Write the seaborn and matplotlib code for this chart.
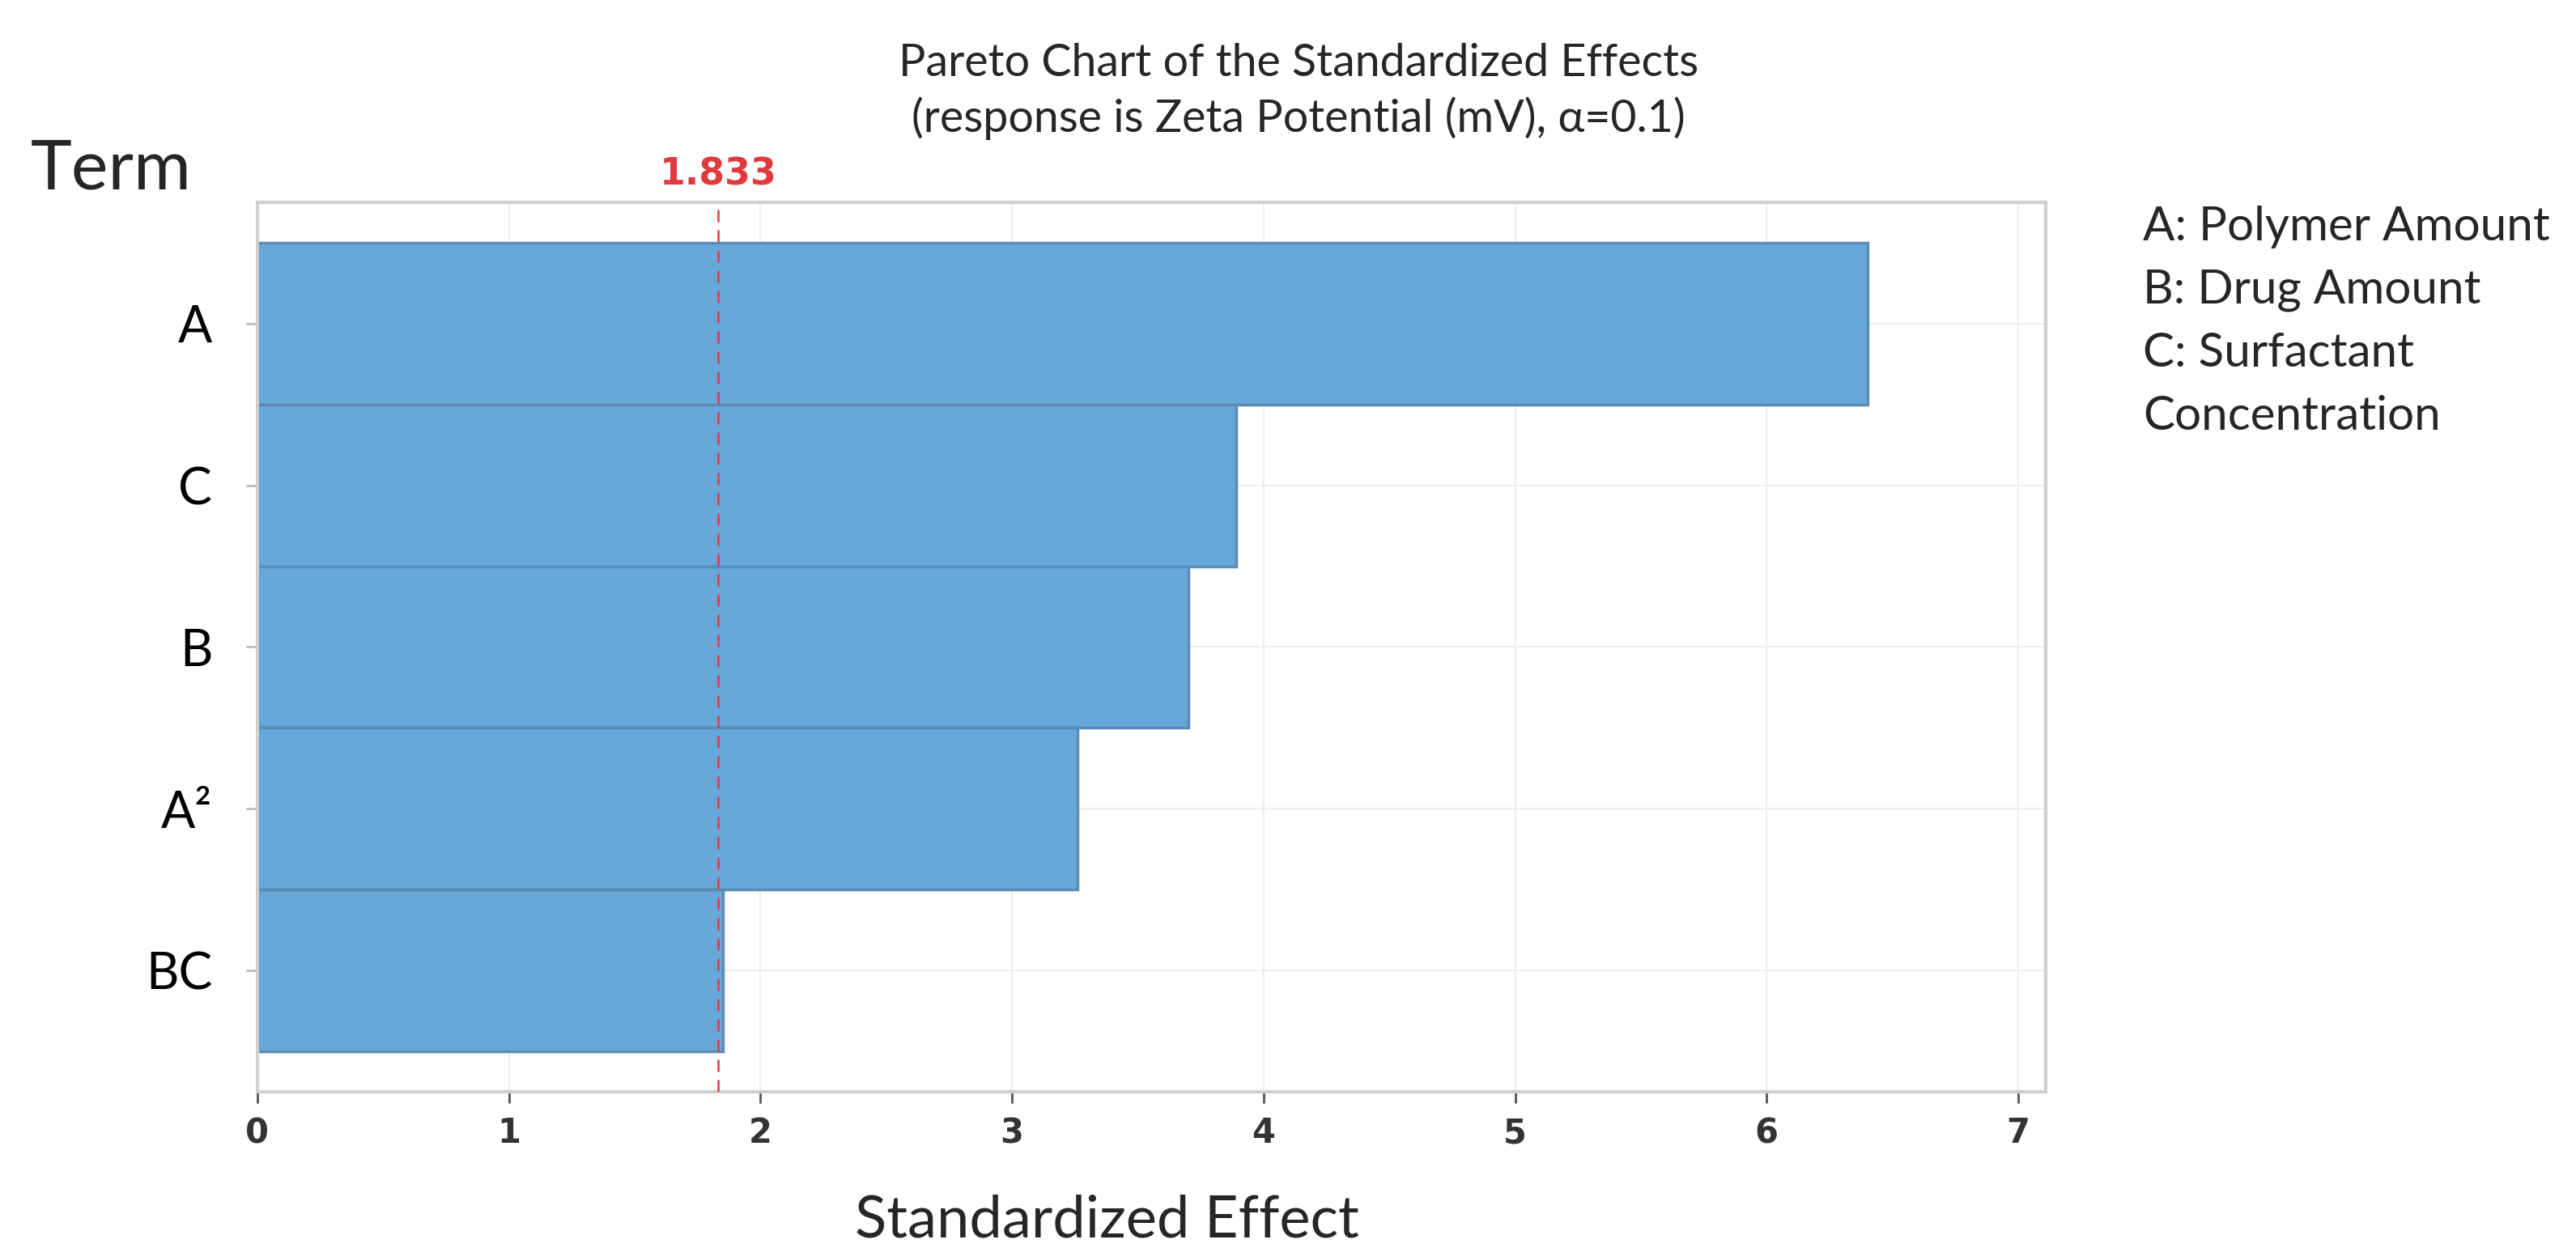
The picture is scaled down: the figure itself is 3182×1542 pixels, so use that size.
import matplotlib
matplotlib.use("Agg")
import matplotlib.pyplot as plt
import seaborn as sns
import pandas as pd

# ---------------------------------------------------------------------------
# Data
# ---------------------------------------------------------------------------
terms = ["A", "C", "B", "A²", "BC"]
effects = [6.40, 3.89, 3.70, 3.26, 1.85]
critical_value = 1.833
x_ticks = [0, 1, 2, 3, 4, 5, 6, 7]
legend_lines = ["A: Polymer Amount", "B: Drug Amount", "C: Surfactant", "Concentration"]

title_text = "Pareto Chart of the Standardized Effects\n(response is Zeta Potential (mV), α=0.1)"

BAR_COLOR = "#67a8da"
EDGE_COLOR = "#5b8cb5"
RED = "#e0393e"

sns.set_theme(style="white")
plt.rcParams["font.family"] = ["Lato", "DejaVu Sans"]

df = pd.DataFrame({"Term": terms, "Effect": effects})

fig = plt.figure(figsize=(31.82, 15.42), dpi=100)
ax = fig.add_axes([0.0999, 0.1252, 0.6943, 0.7127])

sns.barplot(
    data=df, x="Effect", y="Term", orient="h", color=BAR_COLOR,
    edgecolor=EDGE_COLOR, linewidth=2.5, width=1.0, saturation=1, ax=ax,
)

ax.set_xlim(0, 7.11)
ax.set_ylim(4.75, -0.75)
ax.set_axisbelow(True)
ax.grid(True, color="#eeeeee", linewidth=1.5)

# critical value line
ax.axvline(critical_value, color=RED, linestyle=(0, (6, 4)), linewidth=1.8, zorder=3)
ax.annotate(f"{critical_value:.3f}", xy=(critical_value, 1.0),
            xycoords=("data", "axes fraction"), xytext=(0, 8),
            textcoords="offset points", color=RED, fontsize=33,
            family="DejaVu Sans", fontweight="semibold", ha="center", va="bottom")

for s in ax.spines.values():
    s.set_color("#cfcfcf")
    s.set_linewidth(3)

ax.set_xticks(x_ticks)
ax.tick_params(axis="x", labelsize=30, colors="#555555", length=10, width=2,
               pad=12, labelcolor="#333333")
ax.tick_params(axis="y", labelsize=45, length=10, width=2, colors="#bbbbbb",
               labelcolor="black", pad=30)
ax.tick_params(bottom=True, left=True)
for lab in ax.get_xticklabels():
    lab.set_family("DejaVu Sans")
    lab.set_fontweight("semibold")

ax.set_xlabel("Standardized Effect", fontsize=52)
ax.xaxis.set_label_coords(0.475, -0.115)
ax.set_ylabel("")

fig.text(0.504, 0.927, title_text, ha="center", va="center", fontsize=40,
         linespacing=1.35)
fig.text(0.012, 0.864, "Term", ha="left", va="center", fontsize=62)

y0 = 0.818
for i, line in enumerate(legend_lines):
    fig.text(0.832, y0 - i * 0.0505, line, ha="left", va="center", fontsize=42)

fig.savefig("out.png", dpi=100)
